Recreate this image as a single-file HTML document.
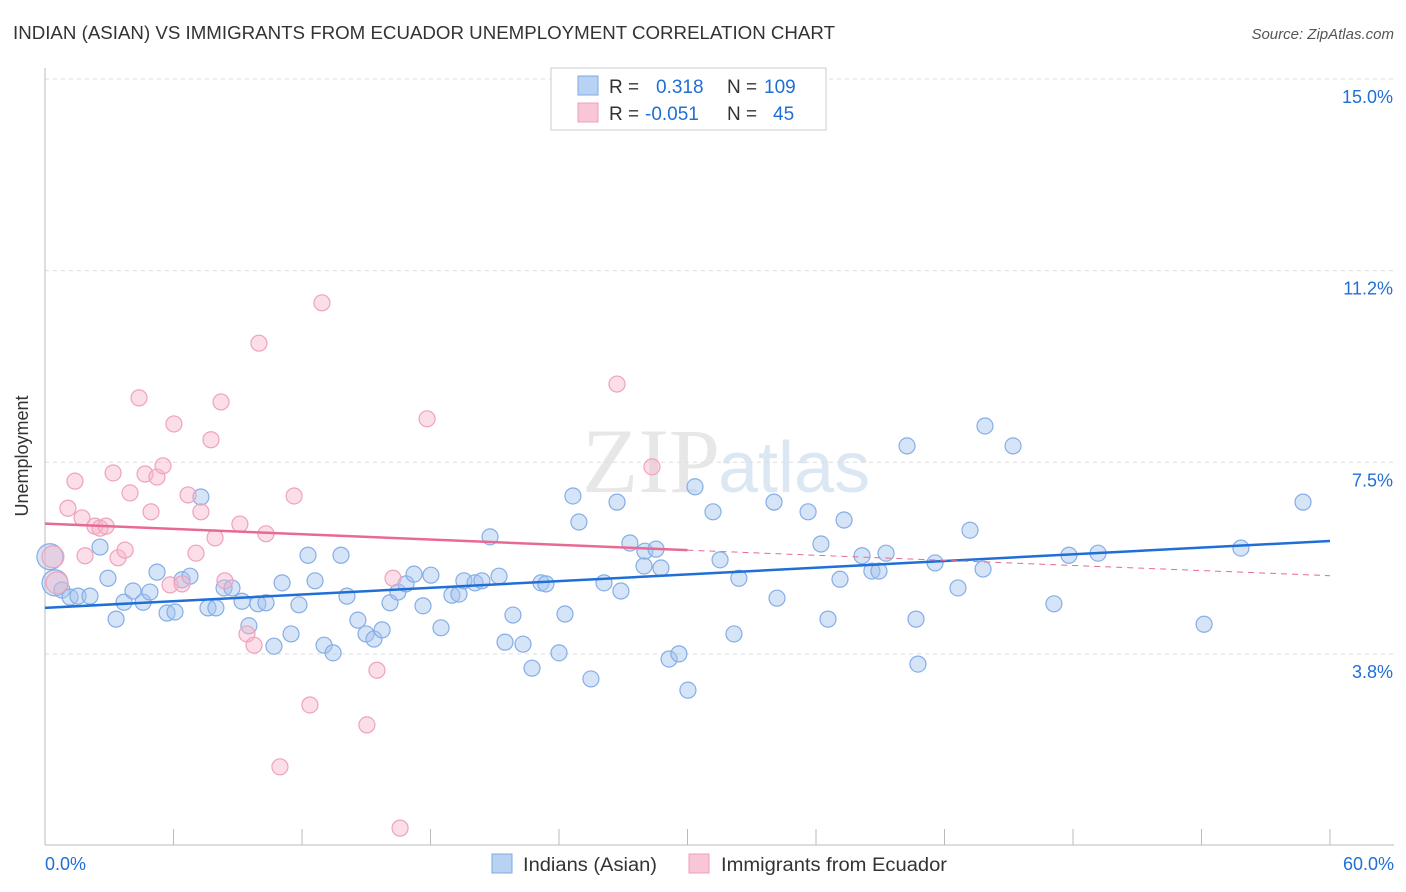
<!DOCTYPE html>
<html><head><meta charset="utf-8">
<style>
body{margin:0;background:#fff;font-family:"Liberation Sans",sans-serif;}
svg{display:block}
</style></head>
<body>
<svg id="chart" width="1406" height="892">
<text x="13" y="39" font-size="18" fill="#333" textLength="822" lengthAdjust="spacingAndGlyphs">INDIAN (ASIAN) VS IMMIGRANTS FROM ECUADOR UNEMPLOYMENT CORRELATION CHART</text>
<text x="1394" y="39" font-size="15" fill="#555" font-style="italic" text-anchor="end">Source: ZipAtlas.com</text>
<text x="28" y="456" font-size="18" fill="#333" text-anchor="middle" transform="rotate(-90 28 456)">Unemployment</text>
<text x="720" y="492" font-size="92" fill="#d8d8d8" text-anchor="end" font-family="Liberation Serif" opacity="0.6">ZIP</text>
<text x="718" y="492" font-size="72" fill="#c5d8ee" opacity="0.6">atlas</text>
<g id="grid"></g><g id="pts"></g><g id="lines"></g>
<g>
<rect x="551" y="68" width="275" height="62" fill="#fff" stroke="#ccc"/>
<rect x="578" y="76" width="20" height="19" fill="#b8d2f4" stroke="#7fa9e0"/>
<rect x="578" y="103" width="20" height="19" fill="#f8c6d4" stroke="#eea0b8"/>
<text x="609" y="93" font-size="19" fill="#333">R = </text><text x="656" y="93" font-size="19" fill="#1f6fd6">0.318</text>
<text x="727" y="93" font-size="19" fill="#333">N = </text><text x="764" y="93" font-size="19" fill="#1f6fd6">109</text>
<text x="609" y="120" font-size="19" fill="#333">R = </text><text x="645" y="120" font-size="19" fill="#1f6fd6">-0.051</text>
<text x="727" y="120" font-size="19" fill="#333">N = </text><text x="773" y="120" font-size="19" fill="#1f6fd6">45</text>
</g>
<g>
<rect x="492" y="854" width="20" height="19" fill="#b8d2f4" stroke="#7fa9e0"/>
<text x="523" y="871" font-size="19" fill="#333" textLength="134" lengthAdjust="spacingAndGlyphs">Indians (Asian)</text>
<rect x="689" y="854" width="20" height="19" fill="#f8c6d4" stroke="#eea0b8"/>
<text x="721" y="871" font-size="19" fill="#333" textLength="226" lengthAdjust="spacingAndGlyphs">Immigrants from Ecuador</text>
</g>
</svg>
<script>
const yTicks=[15.0,11.25,7.5,3.75];
const yTickLabels=["15.0%","11.2%","7.5%","3.8%"];
const xTickLabels=["0.0%","60.0%"];
const blueX=[0.23,0.47,0.79,1.17,1.54,2.10,2.57,2.94,3.32,3.69,4.11,4.58,4.90,5.23,5.70,6.07,6.40,6.77,7.28,7.61,7.98,8.36,8.73,9.20,9.52,9.94,10.32,10.69,11.07,11.49,11.86,12.28,12.61,13.03,13.45,13.82,14.10,14.61,14.99,15.36,15.74,16.11,16.48,16.86,17.23,17.65,18.02,18.49,19.00,19.33,19.56,20.08,20.40,20.78,21.20,21.48,21.85,22.32,22.74,23.16,23.39,24.00,24.28,24.65,24.93,25.49,26.10,26.71,26.89,27.31,28.01,28.53,27.97,28.76,29.14,29.60,30.02,30.35,31.19,31.52,32.17,32.40,34.04,34.18,35.63,36.23,36.56,37.12,37.31,38.15,38.61,38.94,39.27,40.25,40.67,40.76,41.56,42.63,43.19,43.80,43.89,45.20,47.11,47.81,49.17,54.12,55.84,58.74];
const blueY=[5.65,5.14,5.00,4.86,4.88,4.88,5.84,5.23,4.43,4.76,4.98,4.76,4.96,5.35,4.55,4.57,5.20,5.27,6.82,4.65,4.65,5.04,5.04,4.78,4.30,4.73,4.75,3.90,5.14,4.14,4.71,5.68,5.18,3.92,3.77,5.68,4.88,4.41,4.14,4.04,4.22,4.75,4.96,5.12,5.31,4.69,5.29,4.26,4.90,4.92,5.18,5.14,5.18,6.04,5.27,3.98,4.51,3.94,3.47,5.14,5.12,3.77,4.53,6.84,6.33,3.26,5.14,6.72,4.98,5.92,5.76,5.80,5.47,5.43,3.65,3.75,3.04,7.02,6.53,5.59,4.14,5.23,6.72,4.84,6.53,5.90,4.43,5.21,6.37,5.67,5.37,5.37,5.72,7.82,4.43,3.55,5.53,5.04,6.17,5.41,8.21,7.82,4.73,5.68,5.72,4.33,5.82,6.72];
const pinkX=[0.37,0.56,1.40,1.07,1.73,1.87,2.33,2.57,2.85,3.18,3.41,3.74,3.97,4.39,4.67,4.95,5.23,5.51,5.84,6.02,6.40,6.68,7.05,7.28,7.75,7.94,8.22,8.40,9.10,9.43,9.76,9.99,10.32,10.97,11.63,12.37,12.93,15.03,15.50,16.25,16.58,17.84,26.71,28.34];
const pinkY=[5.65,5.14,7.13,6.60,6.41,5.67,6.25,6.21,6.25,7.29,5.63,5.78,6.90,8.76,7.27,6.53,7.21,7.43,5.10,8.25,5.12,6.86,5.72,6.53,7.94,6.02,8.68,5.18,6.29,4.14,3.92,9.83,6.10,1.54,6.84,2.75,10.62,2.36,3.43,5.23,0.34,8.35,9.03,7.41];
const blueTrend=[4.65,5.96];
const pinkTrend=[6.30,5.78,5.28];
const NS="http://www.w3.org/2000/svg";
const X0=45,X1=1330,Y0=845;
const xs=v=>X0+(v/60)*(X1-X0);
const ys=v=>79+(15-v)*51.1;
function mk(tag,attrs,parent){const e=document.createElementNS(NS,tag);for(const k in attrs)e.setAttribute(k,attrs[k]);parent.appendChild(e);return e;}
const grid=document.getElementById('grid');
yTicks.forEach((t,i)=>{
 const l=mk('line',{x1:X0,x2:1394,y1:ys(t),y2:ys(t),stroke:'#ddd','stroke-dasharray':'4,4'},grid);
 
 
 const tx=mk('text',{x:1393,y:ys(t)+24,'font-size':18,fill:'#1f6fd6','text-anchor':'end'},grid);
 tx.textContent=yTickLabels[i];
 
 
});
const ax=mk('line',{x1:X0,x2:X0,y1:68,y2:Y0,stroke:'#bbb'},grid);


const bx=mk('line',{x1:X0,x2:1394,y1:Y0,y2:Y0,stroke:'#bbb'},grid);


for(let i=0;i<=10;i++){const tk=mk('line',{x1:xs(i*6),x2:xs(i*6),y1:Y0-16,y2:Y0,stroke:'#bbb'},grid);
 
 }
[[0,'start',45],[60,'end',1394]].forEach((d,i)=>{const t=mk('text',{x:d[2],y:870,'font-size':18,fill:'#1f6fd6','text-anchor':d[1]},grid);t.textContent=xTickLabels[i];
 
 });
const pts=document.getElementById('pts');
blueX.forEach((x,i)=>{const c=mk('circle',{cx:xs(x),cy:ys(blueY[i]),r:i<2?13:8,fill:'rgba(164,196,240,0.45)',stroke:'#85aee6','stroke-width':1.2},pts);
 
 });
pinkX.forEach((x,i)=>{const c=mk('circle',{cx:xs(x),cy:ys(pinkY[i]),r:i<2?11:8,fill:'rgba(246,182,202,0.45)',stroke:'#eea3bb','stroke-width':1.2},pts);
 
 });
const lines=document.getElementById('lines');
const bl=mk('line',{x1:xs(0),y1:ys(blueTrend[0]),x2:xs(60),y2:ys(blueTrend[1]),stroke:'#1f6fd6','stroke-width':2.5},lines);


const pl=mk('line',{x1:xs(0),y1:ys(pinkTrend[0]),x2:xs(30),y2:ys(pinkTrend[1]),stroke:'#e86a92','stroke-width':2.5},lines);


const pd=mk('line',{x1:xs(30),y1:ys(pinkTrend[1]),x2:xs(60),y2:ys(pinkTrend[2]),stroke:'#e86a92','stroke-width':1,'stroke-dasharray':'6,5'},lines);


</script>
</body></html>
